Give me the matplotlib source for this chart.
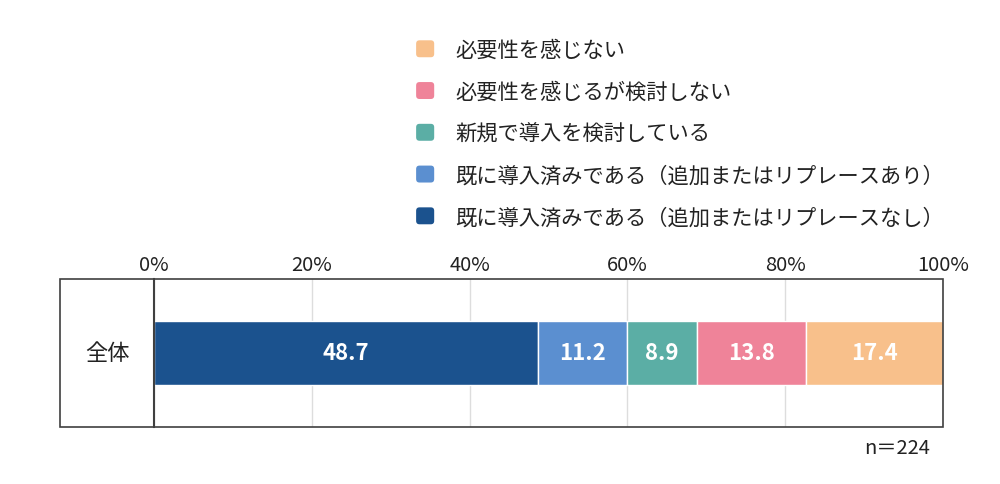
import matplotlib
matplotlib.use('Agg')
import matplotlib.pyplot as plt
from matplotlib.patches import Patch, Rectangle, FancyBboxPatch
from matplotlib.legend_handler import HandlerPatch

plt.rcParams['font.family'] = ['Noto Sans CJK JP', 'DejaVu Sans']

category = '全体'
labels = ['既に導入済みである（追加またはリプレースなし）',
          '既に導入済みである（追加またはリプレースあり）',
          '新規で導入を検討している',
          '必要性を感じるが検討しない',
          '必要性を感じない']
values = [48.7, 11.2, 8.9, 13.8, 17.4]
colors = ['#1b528e', '#5b8fd0', '#5baea5', '#ef8399', '#f8c08b']
ticks = [0, 20, 40, 60, 80, 100]
n_text = 'n＝224'


class RoundBox(HandlerPatch):
    # rounded square legend keys
    def create_artists(self, legend, orig_handle, xdescent, ydescent, width, height, fontsize, trans):
        p = FancyBboxPatch((-xdescent, -ydescent), width, height,
                           boxstyle='round,pad=0,rounding_size=%f' % (height * 0.2),
                           facecolor=orig_handle.get_facecolor(), edgecolor='none', transform=trans)
        return [p]


fig = plt.figure(figsize=(10, 4.85), dpi=100)

# outer frame (label column + plot)
H = 485
y_top, y_bot = 280, 428
fig.patches.append(Rectangle((60 / 1000, 1 - y_bot / H), (943 - 60) / 1000, (y_bot - y_top) / H,
                             transform=fig.transFigure, fill=False, edgecolor='#404040', lw=1.2))

ax = fig.add_axes([154 / 1000, 1 - y_bot / H, (943 - 154) / 1000, (y_bot - y_top) / H])
left = 0
for v, c, lab in zip(values, colors, labels):
    ax.barh(0, v, left=left, height=0.432, color=c, edgecolor='white', linewidth=1, label=lab, zorder=3)
    ax.text(left + v / 2, 0, f'{v:.1f}', ha='center', va='center', color='white',
            fontsize=16, fontweight='bold', zorder=4)
    left += v

ax.set_xlim(0, 100)
ax.set_ylim(-0.5, 0.5)
ax.set_yticks([])
ax.xaxis.tick_top()
ax.set_xticks(ticks)
ax.set_xticklabels([f'{t}%' for t in ticks], fontsize=14.5, color='#222222')
ax.tick_params(axis='x', length=0, pad=3)
ax.grid(axis='x', color='#dddddd', lw=1, zorder=0)
for s in ['top', 'bottom', 'right']:
    ax.spines[s].set_visible(False)
ax.spines['left'].set_color('#404040')
ax.spines['left'].set_linewidth(1.5)
ax.spines['left'].set_zorder(5)

fig.text(107 / 1000, 1 - 354 / H, category, ha='center', va='center', fontsize=16, color='#222222')
fig.text(930 / 1000, 1 - 449 / H, n_text, ha='right', va='center', fontsize=14.5, color='#222222')

handles = [Patch(facecolor=c, edgecolor=c) for c in colors][::-1]
fig.legend(handles, labels[::-1], loc='upper left', bbox_to_anchor=(397 / 1000, 1 - 21 / H),
           frameon=False, fontsize=15.3, handlelength=0.85, handleheight=0.85,
           labelspacing=0.93, handletextpad=1.0, labelcolor='#222222',
           handler_map={Patch: RoundBox()})

plt.savefig('out.png', dpi=100)
